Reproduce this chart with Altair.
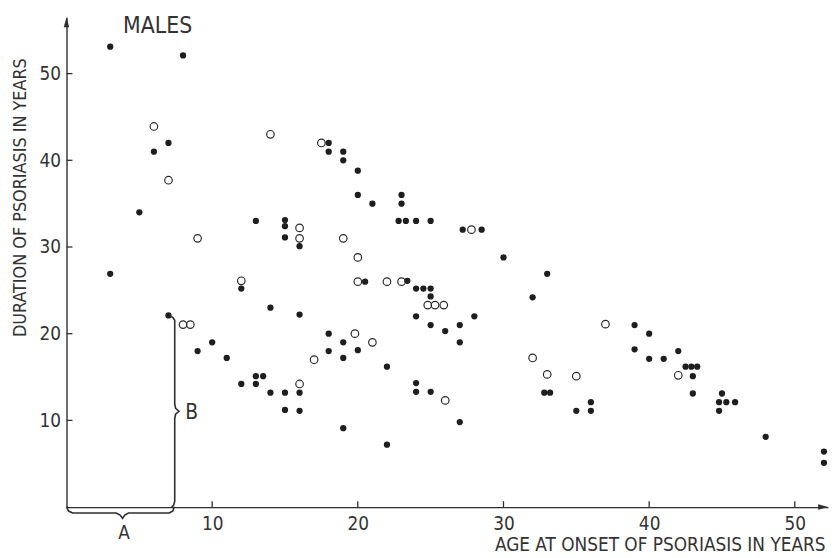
import altair as alt
import pandas as pd

# ---------------- data ----------------
filled_age = [3, 8, 7, 6, 5, 13, 3, 12, 14, 7, 10, 9, 11, 13, 13.5, 12, 13, 14,
              18, 18, 19, 19, 20, 20, 21, 23, 23, 22.8, 23.3, 24, 25, 27.2, 28.5, 30,
              15, 15, 15, 16, 20.5, 23.4, 24, 24.5, 25, 25, 32,
              16, 24, 28, 25, 27, 26, 27, 18, 19, 18, 20, 19, 22,
              15, 16, 15, 16, 19, 22, 24, 24, 25, 27,
              33, 39, 40, 39, 40, 41, 42, 42.5, 42.9, 43.3, 43, 43,
              32.8, 33.2, 36, 35, 36, 45, 44.8, 45.3, 45.9, 44.8, 48, 52, 52]
filled_dur = [53.1, 52.1, 42, 41, 34, 33, 26.9, 25.2, 23, 22.1, 19, 18, 17.2, 15.1, 15.1, 14.2, 14.2, 13.2,
              42, 41, 41, 40, 38.8, 36, 35, 36, 35, 33, 33, 33, 33, 32, 32, 28.8,
              33.1, 32.4, 31.1, 30.1, 26, 26.1, 25.2, 25.2, 25.2, 24.3, 24.2,
              22.2, 22, 22, 21, 21, 20.3, 19, 20, 19, 18, 18.1, 17.2, 16.2,
              13.2, 13.2, 11.2, 11.1, 9.1, 7.2, 14.3, 13.3, 13.3, 9.8,
              26.9, 21, 20, 18.2, 17.1, 17.1, 18, 16.2, 16.2, 16.2, 15.1, 13.1,
              13.2, 13.2, 12.1, 11.1, 11.1, 13.1, 12.1, 12.1, 12.1, 11.1, 8.1, 6.4, 5.1]

open_age = [6, 14, 7, 9, 12, 8, 8.5, 17.5, 27.8, 16, 16, 19, 20, 20, 22, 23,
            24.8, 25.3, 25.9, 19.8, 21, 17, 16, 26, 32, 37, 42, 33, 35]
open_dur = [43.9, 43, 37.7, 31, 26.1, 21.05, 21.05, 42, 32, 32.2, 31, 31, 28.8, 26, 26, 26,
            23.3, 23.3, 23.3, 20, 19, 17, 14.2, 12.3, 17.2, 21.1, 15.2, 15.3, 15.1]

x_ticks = [10, 20, 30, 40, 50]
y_ticks = [10, 20, 30, 40, 50]

# curly-brace annotation paths (data units)
brace_a_x = [0, 0.14, 0.41, 3.41, 3.68, 3.85, 4.0, 4.25, 7.05, 7.3, 7.4]
brace_a_y = [0.05, -0.46, -0.69, -0.69, -0.92, -1.3, -0.92, -0.69, -0.69, -0.46, 0.05]
brace_b_x = [7.08, 7.29, 7.43, 7.43, 7.49, 7.72, 7.49, 7.43, 7.43, 7.36, 7.22]
brace_b_y = [22.05, 21.88, 21.54, 11.91, 11.40, 11.05, 10.71, 10.20, 0.69, 0.23, 0.0]

labels_text = ["MALES", "A", "B"]
labels_x = [6.26, 3.95, 8.6]
labels_y = [55.5, -2.95, 10.9]
labels_size = [23, 19, 21]

# ---------------- chart ----------------
FONT = "Liberation Sans Narrow, DejaVu Sans Condensed, Arial Narrow, sans-serif"
INK = "#2e2e2e"
TXT = "#333333"
X_MAX, Y_MAX = 52.28, 56.5
W, H = 768, 494

xs = alt.Scale(domain=[0, X_MAX], nice=False, zero=False)
ys = alt.Scale(domain=[0, Y_MAX], nice=False, zero=False)

x_axis = alt.Axis(values=x_ticks, grid=False, domain=True, domainColor=INK, domainWidth=1.4,
                  ticks=False, tickSize=0, labelFont=FONT, labelFontSize=19, labelColor=TXT,
                  labelPadding=8, title="AGE AT ONSET OF PSORIASIS IN YEARS", titleFont=FONT,
                  titleFontSize=19, titleFontWeight="normal", titleColor=TXT, titleAlign="right",
                  titleBaseline="alphabetic", titleX=765, titleY=44)
y_axis = alt.Axis(values=y_ticks, grid=False, domain=True, domainColor=INK, domainWidth=1.4,
                  ticks=False, tickSize=0, labelFont=FONT, labelFontSize=19, labelColor=TXT,
                  labelPadding=6, title="DURATION OF PSORIASIS IN YEARS", titleFont=FONT,
                  titleFontSize=18, titleFontWeight="normal", titleColor=TXT, titleAngle=270,
                  titleAlign="left", titleBaseline="middle", titleX=-46, titleY=322)


def X(field):
    return alt.X(field, scale=xs, axis=x_axis)


def Y(field):
    return alt.Y(field, scale=ys, axis=y_axis)


filled_df = pd.DataFrame({"age": filled_age, "dur": filled_dur})
open_df = pd.DataFrame({"age": open_age, "dur": open_dur})

filled = alt.Chart(filled_df).mark_circle(size=40, color="#1e1e1e", opacity=1).encode(
    x=X("age:Q"), y=Y("dur:Q"))
opened = alt.Chart(open_df).mark_point(size=58, shape="circle", filled=False, color="#2a2a2a",
                                        strokeWidth=1.2, opacity=1).encode(
    x=X("age:Q"), y=Y("dur:Q"))

xt = alt.Chart(pd.DataFrame({"age": x_ticks})).mark_rule(color=INK, strokeWidth=1.3).encode(
    x=X("age:Q"), y=alt.value(H), y2=alt.value(H - 6))
yt = alt.Chart(pd.DataFrame({"dur": y_ticks})).mark_rule(color=INK, strokeWidth=1.3).encode(
    y=Y("dur:Q"), x=alt.value(0), x2=alt.value(6))

one = pd.DataFrame({"a": [0]})
arrow_up = alt.Chart(one).mark_point(shape="M0,-1L0.55,1L-0.55,1Z", size=100, filled=True,
                                     color=INK, opacity=1).encode(x=alt.value(0), y=alt.value(5))
arrow_right = alt.Chart(one).mark_point(shape="M1,0L-1,0.55L-1,-0.55Z", size=100, filled=True,
                                        color=INK, opacity=1).encode(x=alt.value(W - 5), y=alt.value(H))

brace_a = alt.Chart(pd.DataFrame({"age": brace_a_x, "dur": brace_a_y, "i": range(len(brace_a_x))})).mark_line(
    color=INK, strokeWidth=1.6).encode(x=X("age:Q"), y=Y("dur:Q"), order="i:Q")
brace_b = alt.Chart(pd.DataFrame({"age": brace_b_x, "dur": brace_b_y, "i": range(len(brace_b_x))})).mark_line(
    color=INK, strokeWidth=1.6).encode(x=X("age:Q"), y=Y("dur:Q"), order="i:Q")

labels = alt.Chart(pd.DataFrame({"t": labels_text, "age": labels_x, "dur": labels_y, "s": labels_size})).mark_text(
    font=FONT, color=TXT, align="center", baseline="middle").encode(
    x=X("age:Q"), y=Y("dur:Q"), text="t:N", size=alt.Size("s:Q", scale=None, legend=None))

chart = alt.layer(filled, opened, brace_a, brace_b, xt, yt, arrow_up, arrow_right, labels).properties(
    width=W, height=H,
    autosize=alt.AutoSizeParams(type="none"),
    padding={"left": 59, "top": 7, "right": 2, "bottom": 46},
    background="white",
).configure_view(stroke=None)

chart.save("out.html", embed_options={"renderer": "svg", "actions": False})
